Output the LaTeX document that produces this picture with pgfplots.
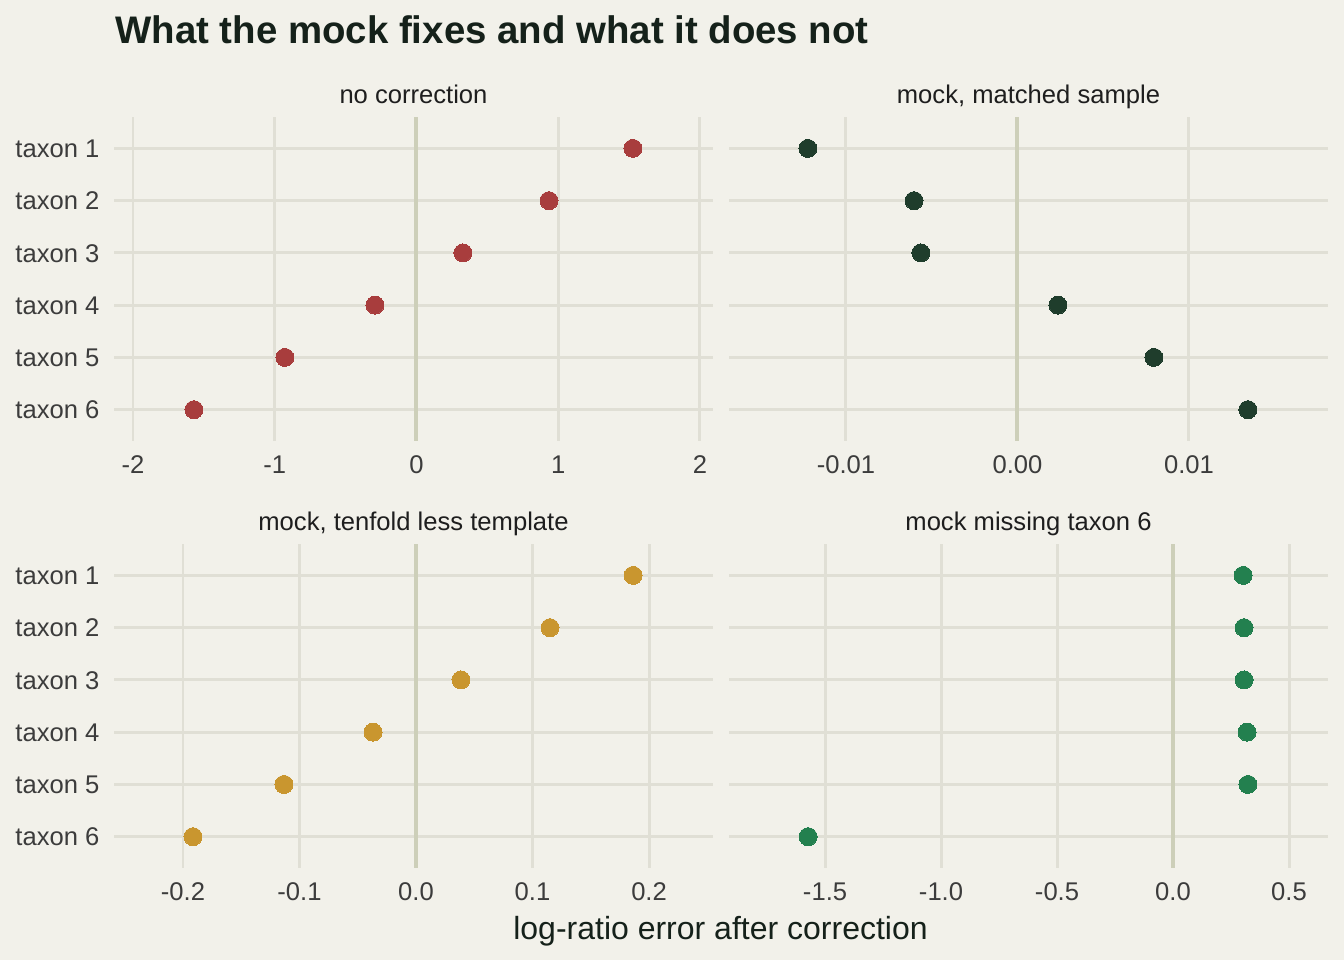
\documentclass[border=0pt]{standalone}
\usepackage{pgfplots}
\pgfplotsset{compat=1.18}
\usepackage{fontspec}
\setmainfont{Liberation Sans}
\definecolor{bg}{HTML}{F2F1EA}
\definecolor{gridc}{HTML}{E0DFD5}
\definecolor{zeroc}{HTML}{CDCFB9}
\definecolor{tickc}{HTML}{3C3C3C}
\definecolor{stripc}{HTML}{1E1E1E}
\definecolor{titlec}{HTML}{15211A}
\definecolor{c1}{HTML}{A83D3D}
\definecolor{c2}{HTML}{1F3D2C}
\definecolor{c3}{HTML}{C9962F}
\definecolor{c4}{HTML}{23804F}
\pgfplotsset{
  panel/.style={
    scale only axis, width=224.625pt, height=121.5pt, anchor=south west,
    y dir=reverse, ymin=0.4, ymax=6.6, ytick={1,2,3,4,5,6},
    axis line style={draw=none}, major tick length=0pt,
    grid=major, grid style={color=gridc, line width=1.1pt},
    tick label style={font=\fontsize{9.6}{11}\selectfont, color=tickc},
    xticklabel style={anchor=north, inner sep=0pt, text height=6.9pt, text depth=0pt, yshift=-4.9pt},
    yticklabel style={anchor=east, inner sep=0pt, text height=6.9pt, text depth=0pt, xshift=-5.25pt},
    title style={at={(0.5,1)}, anchor=base, inner sep=0pt, yshift=-1.05pt, font=\fontsize{9.6}{11}\selectfont, color=stripc},
    clip=false,
  },
  leftp/.style={yticklabels={taxon 1,taxon 2,taxon 3,taxon 4,taxon 5,taxon 6}},
  rightp/.style={yticklabels={}},
  dots/.style={only marks, color=#1, mark=*, mark size=3.375pt, mark options={solid, draw=#1, line width=0pt, fill=#1}},
  zline/.style={no marks, color=zeroc, line width=1.5pt},
}
\begin{document}
\begin{tikzpicture}
\fill[bg] (0,0) rectangle (504pt,360pt);
\useasboundingbox (0,0) rectangle (504pt,360pt);
\node[anchor=base west, inner sep=0pt, font=\fontsize{14.4}{17}\selectfont\bfseries, text=titlec] at (43.1pt,343.8pt) {What the mock fixes and what it does not};
\node[anchor=base, inner sep=0pt, font=\fontsize{12}{14}\selectfont, text=titlec] at (270.2pt,7.85pt) {log-ratio error after correction};

% top-left
\begin{axis}[panel, leftp, at={(42.75pt,194.625pt)}, title={no correction},
  xmin=-2.134, xmax=2.092, xtick={-2,-1,0,1,2}, xticklabels={-2,-1,0,1,2}]
\addplot[zline] coordinates {(0,0.4) (0,6.6)};
\addplot[dots=c1] coordinates {(1.527,1) (0.935,2) (0.328,3) (-0.293,4) (-0.928,5) (-1.570,6)};
\end{axis}

% top-right
\begin{axis}[panel, rightp, at={(273.375pt,194.625pt)}, title={mock, matched sample},
  xmin=-0.01682, xmax=0.01811, xtick={-0.01,0,0.01}, xticklabels={-0.01,0.00,0.01},
  scaled x ticks=false]
\addplot[zline] coordinates {(0,0.4) (0,6.6)};
\addplot[dots=c2] coordinates {(-0.01222,1) (-0.00603,2) (-0.00563,3) (0.00236,4) (0.00796,5) (0.01344,6)};
\end{axis}

% bottom-left
\begin{axis}[panel, leftp, at={(42.75pt,34.5pt)}, title={mock, tenfold less template},
  xmin=-0.2592, xmax=0.2549, xtick={-0.2,-0.1,0,0.1,0.2}, xticklabels={-0.2,-0.1,0.0,0.1,0.2}]
\addplot[zline] coordinates {(0,0.4) (0,6.6)};
\addplot[dots=c3] coordinates {(0.1863,1) (0.1150,2) (0.0386,3) (-0.0369,4) (-0.1133,5) (-0.1914,6)};
\end{axis}

% bottom-right
\begin{axis}[panel, rightp, at={(273.375pt,34.5pt)}, title={mock missing taxon 6},
  xmin=-1.914, xmax=0.668, xtick={-1.5,-1,-0.5,0,0.5}, xticklabels={-1.5,-1.0,-0.5,0.0,0.5}]
\addplot[zline] coordinates {(0,0.4) (0,6.6)};
\addplot[dots=c4] coordinates {(0.302,1) (0.306,2) (0.306,3) (0.319,4) (0.323,5) (-1.573,6)};
\end{axis}
\end{tikzpicture}
\end{document}
